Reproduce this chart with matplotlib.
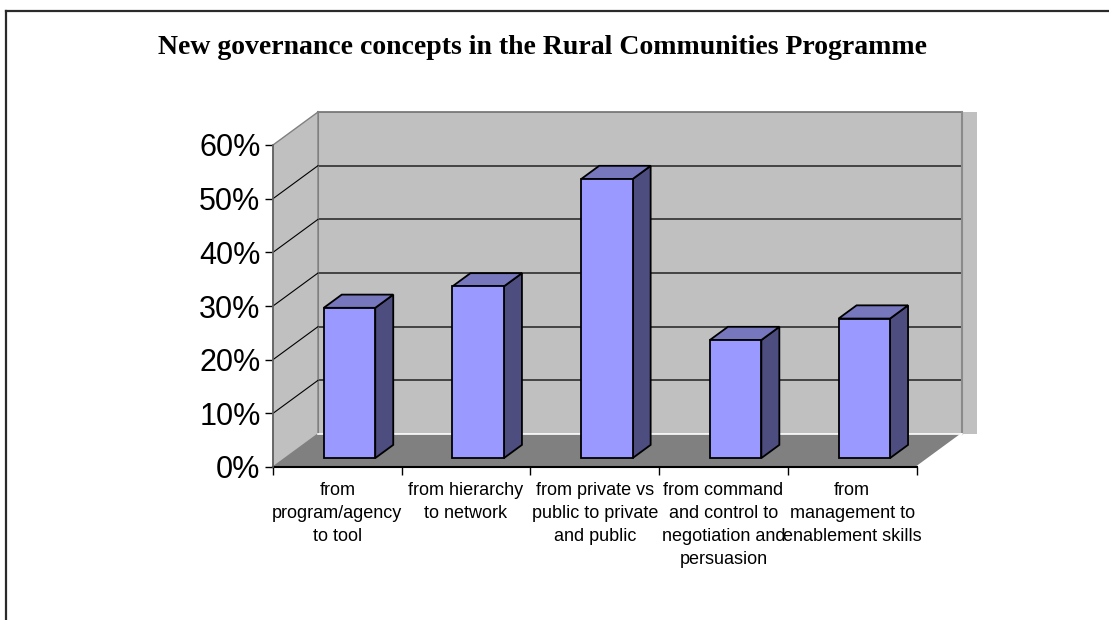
import matplotlib.pyplot as plt
import numpy as np
from matplotlib.patches import Polygon, Rectangle
from matplotlib.lines import Line2D
from matplotlib.ticker import FixedLocator, PercentFormatter

categories = ['from\nprogram/agency\nto tool',
              'from hierarchy\nto network',
              'from private vs\npublic to private\nand public',
              'from command\nand control to\nnegotiation and\npersuasion',
              'from\nmanagement to\nenablement skills']
values = [28, 32, 52, 22, 26]
yticks = [0, 10, 20, 30, 40, 50, 60]

W, H = 1109, 620
fig = plt.figure(figsize=(W / 100, H / 100), dpi=100)

# front plane of the chart box, in pixels
x0, x1 = 273, 916.5
y0, y1 = 467, 145
ax = fig.add_axes([x0 / W, 1 - y0 / H, (x1 - x0) / W, (y0 - y1) / H])
n = len(values)
ax.set_xlim(0, n)
ax.set_ylim(0, 60)

# depth offset of the back wall, in data units
dx = 45 / ((x1 - x0) / n)
dy = 33 / ((y0 - y1) / 60)

ax.patch.set_visible(False)
for s in ax.spines.values():
    s.set_visible(False)

wall = '#c0c0c0'
# back wall
ax.add_patch(Rectangle((dx, dy), n, 60, facecolor=wall, edgecolor='none', zorder=0, clip_on=False))
ax.add_patch(Rectangle((n + dx, dy), 0.117, 60, facecolor=wall, edgecolor='none', zorder=0, clip_on=False))
for v in yticks[1:]:
    ax.plot([dx, n + dx], [v + dy, v + dy], color='#2e2e2e' if v < 60 else '#707070',
            lw=1.2, zorder=1, clip_on=False)
ax.plot([dx, dx], [dy, 60 + dy], color='#808080', lw=1.5, zorder=1, clip_on=False)
ax.plot([n + dx, n + dx], [dy, 60 + dy], color='#8a8a8a', lw=1.5, zorder=1, clip_on=False)

# side wall
ax.add_patch(Polygon([(0, 0), (0, 60), (dx, 60 + dy), (dx, dy)], closed=True,
                     facecolor=wall, edgecolor='#808080', lw=1, zorder=2, clip_on=False))
for v in yticks[1:-1]:
    ax.plot([0, dx], [v, v + dy], color='black', lw=0.8, zorder=2, clip_on=False)

# floor
ax.add_patch(Polygon([(0, 0), (n, 0), (n + dx, dy), (dx, dy)], closed=True,
                     facecolor='#808080', edgecolor='none', zorder=3, clip_on=False))
ax.plot([dx, n + dx], [dy, dy], color='white', lw=1.2, zorder=3, clip_on=False)
ax.plot([n, n + dx], [0, dy], color='white', lw=1.2, zorder=3, clip_on=False)
ax.plot([0, n], [0, 0], color='black', lw=1.5, zorder=3, clip_on=False)
ax.plot([0, 0], [0, 60], color='#606060', lw=1.2, zorder=3, clip_on=False)

# columns: front face from ax.bar, side and top as polygons
f0, f1 = 0.27, 0.67
bw = 0.4
xs = np.arange(n) + 0.5 + f0 * dx
ax.bar(xs, values, width=bw, bottom=f0 * dy, color='#9999ff', edgecolor='black',
       lw=1.3, zorder=6, clip_on=False)
ddx, ddy = (f1 - f0) * dx, (f1 - f0) * dy
for xc, v in zip(xs, values):
    xl, xr = xc - bw / 2, xc + bw / 2
    base, top = f0 * dy, v + f0 * dy
    ax.add_patch(Polygon([(xr, base), (xr, top), (xr + ddx, top + ddy), (xr + ddx, base + ddy)],
                         closed=True, facecolor='#4d4d80', edgecolor='black', lw=1.3,
                         zorder=5, clip_on=False))
    ax.add_patch(Polygon([(xl, top), (xr, top), (xr + ddx, top + ddy), (xl + ddx, top + ddy)],
                         closed=True, facecolor='#7777bd', edgecolor='black', lw=1.3,
                         zorder=5, clip_on=False))

# axes ticks and labels
ax.yaxis.set_major_locator(FixedLocator(yticks))
ax.yaxis.set_major_formatter(PercentFormatter(decimals=0))
ax.tick_params(axis='y', direction='out', length=6, width=1, color='black', pad=3,
               labelsize=22, labelfontfamily='Liberation Sans')
ax.xaxis.set_major_locator(FixedLocator(np.arange(n + 1)))
ax.xaxis.set_minor_locator(FixedLocator(np.arange(n) + 0.5))
ax.set_xticklabels([], minor=False)
ax.set_xticklabels(categories, minor=True, fontsize=13, family='Liberation Sans',
                   linespacing=1.45, va='top')
ax.tick_params(axis='x', which='major', direction='out', length=6, width=1, color='black')
ax.tick_params(axis='x', which='minor', length=0, pad=11)

fig.text(543 / W, 1 - 47 / H, 'New governance concepts in the Rural Communities Programme',
         ha='center', va='center', fontsize=20, fontweight='bold', family='Liberation Serif')

# outer chart border
fig.add_artist(Line2D([5.5 / W, 5.5 / W], [0, 1 - 11 / H], color='#2a2a2a', lw=1.6))
fig.add_artist(Line2D([5.5 / W, 1], [1 - 11 / H, 1 - 11 / H], color='#2a2a2a', lw=1.6))

fig.savefig('out.png', dpi=100)
